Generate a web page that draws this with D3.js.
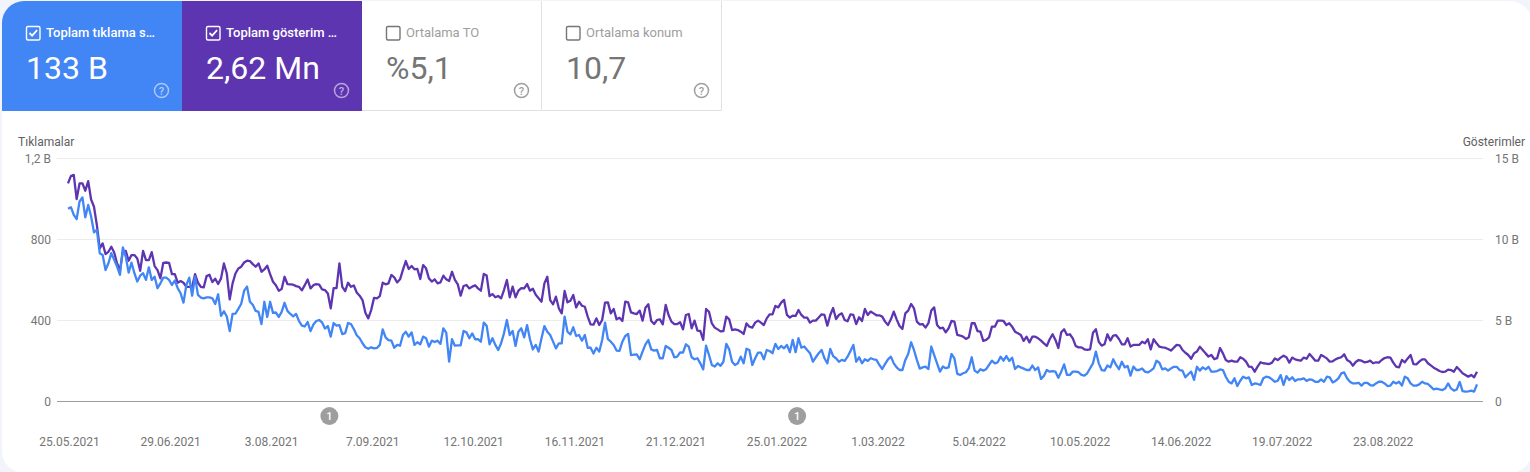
<!DOCTYPE html>
<html>
<head>
<meta charset="utf-8">
<script src="https://cdn.jsdelivr.net/npm/d3@7"></script>
<style>
html,body{margin:0;padding:0;background:#f1f4fb;overflow:hidden;}
text{font-family:Roboto,sans-serif;}
</style>
</head>
<body>
<script>
// summary tiles
const tileTitles=["Toplam tıklama s…","Toplam gösterim …","Ortalama TO","Ortalama konum"];
const tileValues=["133 B","2,62 Mn","%5,1","10,7"];
const tileChecked=[true,true,false,false];
const tileFills=["#4285f4","#5e35b1","#fff","#fff"];

const startDate="2021-05-25";
const dateTicks=["2021-05-25","2021-06-29","2021-08-03","2021-09-07","2021-10-12","2021-11-16","2021-12-21","2022-01-25","2022-03-01","2022-04-05","2022-05-10","2022-06-14","2022-07-19","2022-08-23"];
const noteDates=["2021-08-23","2022-02-01"];
const clickTicks=[0,400,800,1200];
const clickTickLabels=["0","400","800","1,2 B"];
const imprTicks=[0,5,10,15];
const imprTickLabels=["0","5 B","10 B","15 B"];

// daily clicks
const clicks=[
949,957,919,898,985,1005,907,968,911,833,845,730,721,647,680,730,697,664,623,759,
713,634,683,631,590,619,631,598,660,598,614,557,581,609,609,598,573,595,557,532,
486,573,609,520,614,524,511,507,512,512,507,479,527,
420,443,417,345,430,432,455,480,545,565,490,475,445,440,380,490,415,490,435,437,
415,440,485,445,430,418,430,395,372,368,390,345,378,395,400,388,358,370,318,385,
372,375,330,335,385,380,355,325,310,285,265,258,265,260,262,
277,354,314,301,298,263,277,273,326,342,318,339,277,290,280,318,310,268,298,291,
298,282,359,338,194,305,273,275,275,346,339,310,334,305,305,293,387,372,280,310,
277,252,285,334,400,326,346,272,342,359,314,375,305,255,277,244,310,370,342,326,
293,260,285,285,417,342,329,364,321,326,298,326,263,263,234,263,244,301,387,305,
293,277,249,247,293,321,331,227,229,230,206,244,280,301,255,249,252,211,211,272,
263,252,216,219,240,239,280,268,216,206,211,186,156,273,227,178,170,186,174,194,
282,255,194,178,186,219,186,258,252,178,211,239,
239,206,252,247,236,282,257,272,260,277,241,302,241,310,264,269,252,236,194,216,
236,252,211,186,257,222,211,194,203,198,219,247,277,194,216,186,206,198,211,206,
203,178,158,183,206,219,186,166,153,153,203,232,290,252,203,160,166,170,158,269,
227,186,145,170,162,166,232,211,134,129,137,142,162,216,150,140,157,150,157,178,
199,186,191,219,199,222,198,214,158,173,166,160,153,153,175,153,166,109,124,153,
145,148,145,115,145,181,129,129,145,145,142,129,125,137,162,186,244,186,153,150,
175,166,206,178,157,194,166,173,125,170,153,153,
161,145,141,150,161,199,189,156,161,150,161,169,169,153,150,117,132,145,104,169,
150,166,156,169,145,145,148,156,153,120,95,87,112,74,100,120,112,117,79,87,
84,79,112,120,117,107,95,100,128,79,123,104,117,99,107,107,112,99,107,104,
95,94,107,95,120,117,92,99,112,136,141,112,95,87,87,90,76,90,90,79,
76,87,95,95,87,74,76,95,87,95,76,120,112,87,76,76,82,95,87,84,
71,57,61,57,54,62,87,62,51,57,94,49,46,48,51,46,82];

// daily impressions, in B
const impressions=[
13.43,13.88,13.96,12.46,13.43,13.43,12.98,13.57,12.44,11.99,10.86,9.42,9.73,9.07,9.21,9.52,9.17,8.49,8.08,9.21,
9.27,8.66,9.01,9.01,8.80,8.04,9.27,8.70,8.70,9.19,8.33,8.08,7.57,8.53,8.55,8.53,7.83,7.83,7.30,7.40,
7.30,7.05,7.05,7.05,7.83,7.30,7.05,7.01,7.71,7.79,7.34,7.55,7.22,7.57,8.49,7.87,6.27,7.26,7.87,8.18,
8.29,8.55,8.66,8.64,8.45,8.29,8.49,7.98,8.12,8.35,7.83,7.36,7.15,6.81,6.91,7.67,7.22,7.20,7.18,7.09,
7.05,6.83,7.15,7.50,6.95,7.15,7.22,7.18,6.89,6.85,6.64,5.72,6.97,6.97,8.49,7.05,6.78,7.30,7.05,7.13,
6.70,6.50,6.23,5.45,5.10,5.61,6.37,6.33,
6.48,7.30,7.20,7.26,7.78,7.63,7.32,7.51,8.09,8.64,8.15,8.33,8.13,8.15,7.53,8.39,8.19,7.57,7.37,7.51,
7.26,7.32,7.74,7.51,7.41,7.98,7.47,7.20,6.50,7.10,7.16,6.95,7.06,7.14,6.95,6.81,7.84,7.74,6.48,6.60,
6.40,6.48,6.34,6.85,7.47,6.40,7.06,6.40,6.81,6.97,6.95,7.22,6.81,6.93,6.56,6.34,6.13,7.26,7.67,6.23,
5.97,6.44,5.72,5.41,6.79,6.09,6.19,6.54,5.78,6.13,5.88,5.82,5.21,4.73,4.71,5.10,4.69,5.00,6.07,6.09,
5.41,5.68,5.04,5.14,4.94,6.13,6.09,5.47,5.41,5.37,5.58,4.96,5.76,5.97,4.94,4.75,5.00,5.04,4.73,5.93,
5.31,4.90,4.75,4.75,4.86,4.42,5.31,5.37,4.49,4.96,4.34,4.32,3.77,5.68,5.51,4.79,4.53,4.42,4.30,4.32,
5.21,5.04,4.38,4.42,4.38,4.28,4.14,4.79,4.59,4.53,4.84,4.96,
4.84,4.69,5.10,5.35,5.35,5.87,5.78,6.07,6.24,5.31,5.15,5.27,5.25,5.62,5.31,5.15,5.15,4.84,4.96,4.96,
5.15,5.35,5.31,4.65,5.31,5.74,5.06,5.31,5.41,5.00,4.92,5.35,5.31,4.75,5.17,4.94,5.68,5.31,5.52,5.41,
5.29,5.29,5.21,4.90,4.69,5.04,5.52,5.04,4.63,4.45,5.41,5.58,5.99,5.72,4.90,4.73,4.75,4.53,4.80,5.58,
5.78,4.69,4.49,4.53,4.24,4.49,4.94,4.90,4.08,4.04,3.97,3.83,3.93,4.80,4.80,4.32,4.28,3.71,3.77,3.93,
4.59,4.59,4.96,4.96,4.94,4.69,4.80,4.59,4.28,4.18,4.08,3.71,3.97,3.62,3.97,3.97,3.87,3.73,3.56,3.40,
3.81,4.12,3.77,3.27,4.24,4.43,4.08,4.12,3.87,3.40,3.31,3.31,3.19,3.15,3.19,4.22,4.43,3.66,3.42,3.50,
4.12,3.73,4.04,4.06,3.83,3.50,3.50,3.87,3.36,3.46,3.46,
3.46,3.66,3.56,3.81,3.19,3.81,3.56,3.35,3.31,3.29,3.21,3.11,3.29,3.46,3.44,3.15,2.98,2.84,2.61,2.94,
3.05,3.35,3.15,2.94,2.74,2.84,2.59,2.65,3.27,2.94,2.53,2.43,2.49,2.43,2.43,2.70,2.61,2.43,2.12,2.10,
1.81,2.12,2.39,2.33,2.31,2.28,2.37,2.63,2.53,2.68,2.80,2.70,2.37,2.68,2.57,2.53,2.49,2.68,2.61,2.90,
2.70,2.49,2.49,2.84,2.74,2.63,2.43,2.45,2.57,2.65,2.70,2.88,2.53,2.43,2.18,2.41,2.53,2.49,2.39,2.41,
2.49,2.33,2.39,2.37,2.53,2.65,2.70,2.68,2.37,2.12,2.08,2.53,2.39,2.63,2.84,2.28,2.26,2.43,2.57,2.57,
2.33,2.20,2.06,1.96,1.85,1.79,1.81,1.94,1.91,1.81,2.10,1.91,1.71,1.61,1.50,1.61,1.46,1.81];

const w=1530,h=472;
const svg=d3.select("body").append("svg")
  .attr("width",w).attr("height",h)
  .style("display","block");

const parse=d3.utcParse("%Y-%m-%d");
const fmt=d3.utcFormat("%-d.%m.%Y");
const start=parse(startDate);
const day=i=>d3.utcDay.offset(start,i);

// white card
const cardW=1530,cardH=472,cardR=22;
svg.append("rect").attr("x",2).attr("y",1).attr("width",cardW).attr("height",cardH)
  .attr("rx",cardR).attr("fill","#fff");
svg.append("clipPath").attr("id","cardClip").append("rect")
  .attr("x",2).attr("y",1).attr("width",cardW).attr("height",cardH).attr("rx",cardR);

// tiles
const tileW=180,tileH=110;
const tile=svg.append("g").attr("clip-path","url(#cardClip)")
  .selectAll("g").data(tileTitles).join("g")
  .attr("transform",(d,i)=>`translate(${2+i*tileW},1)`);
tile.append("rect").attr("width",tileW).attr("height",tileH)
  .attr("fill",(d,i)=>tileFills[i]);
tile.filter((d,i)=>i>1).append("path")
  .attr("d",`M${tileW-.5},0V${tileH-.5}H0`)
  .attr("fill","none").attr("stroke","#e0e0e0");
const fg=i=>tileChecked[i]?"#fff":"#757575";
tile.append("rect").attr("x",24.5).attr("y",25.5).attr("width",13.5).attr("height",13.5).attr("rx",1.5)
  .attr("fill","none").attr("stroke",(d,i)=>fg(i)).attr("stroke-width",1.4);
tile.filter((d,i)=>tileChecked[i]).append("path")
  .attr("d","M27.5,32l2.6,2.6l5,-5.4").attr("fill","none").attr("stroke","#fff").attr("stroke-width",1.8);
tile.append("text").attr("x",44).attr("y",36).text(d=>d)
  .attr("font-size",13).attr("font-weight",(d,i)=>tileChecked[i]?500:400)
  .attr("fill",(d,i)=>tileChecked[i]?"#fff":"#9e9e9e");
tile.append("text").attr("x",24).attr("y",78).text((d,i)=>tileValues[i])
  .attr("font-size",32).attr("fill",(d,i)=>fg(i));
tile.append("circle").attr("cx",159.5).attr("cy",89.5).attr("r",7)
  .attr("fill","none").attr("stroke",(d,i)=>tileChecked[i]?"rgba(255,255,255,.55)":"#9e9e9e").attr("stroke-width",1.5);
tile.append("text").attr("x",159.5).attr("y",93.5).attr("text-anchor","middle").text("?")
  .attr("font-size",11).attr("font-weight",500).attr("fill",(d,i)=>tileChecked[i]?"rgba(255,255,255,.6)":"#9e9e9e");

// scales
const x=d3.scaleUtc().domain([start,day(clicks.length-1)]).range([68,1477]);
const yClicks=d3.scaleLinear().domain([0,1200]).range([401,158]);
const yImpr=d3.scaleLinear().domain([0,15]).range([401,158]);

// grid
svg.append("g").selectAll("line").data(clickTicks).join("line")
  .attr("x1",57).attr("x2",1483)
  .attr("y1",d=>yClicks(d)+.5).attr("y2",d=>yClicks(d)+.5)
  .attr("stroke",d=>d==0?"#9e9e9e":"#ececec");

// axes
function styleAxis(g){
  g.select(".domain").remove();
  g.selectAll(".tick line").remove();
  g.selectAll("text").attr("fill","#757575").attr("font-size",12).attr("font-family","Roboto,sans-serif");
}
svg.append("g").attr("transform","translate(57,1)")
  .call(d3.axisLeft(yClicks).tickValues(clickTicks).tickSize(0).tickPadding(6)
    .tickFormat((d,i)=>clickTickLabels[i])).call(styleAxis);
svg.append("g").attr("transform","translate(1489,1)")
  .call(d3.axisRight(yImpr).tickValues(imprTicks).tickSize(0).tickPadding(6)
    .tickFormat((d,i)=>imprTickLabels[i])).call(styleAxis);
svg.append("g").attr("transform","translate(1,431)")
  .call(d3.axisBottom(x).tickValues(dateTicks.map(parse)).tickSize(0).tickPadding(6)
    .tickFormat(fmt)).call(styleAxis);

svg.append("text").attr("x",18).attr("y",146).text("Tıklamalar")
  .attr("font-size",12).attr("fill","#616161");
svg.append("text").attr("x",1525).attr("y",146).attr("text-anchor","end").text("Gösterimler")
  .attr("font-size",12).attr("fill","#616161");

// lines
const lineI=d3.line().x((d,i)=>x(day(i))).y(d=>yImpr(d));
const lineC=d3.line().x((d,i)=>x(day(i))).y(d=>yClicks(d));
svg.append("path").datum(impressions).attr("d",lineI)
  .attr("fill","none").attr("stroke","#5e35b1").attr("stroke-width",2.3).attr("stroke-linejoin","round");
svg.append("path").datum(clicks).attr("d",lineC)
  .attr("fill","none").attr("stroke","#4285f4").attr("stroke-width",2.3).attr("stroke-linejoin","round");

// annotation markers
const note=svg.append("g").selectAll("g").data(noteDates.map(parse)).join("g")
  .attr("transform",d=>`translate(${x(d)+1.5},416)`);
note.append("circle").attr("r",9).attr("fill","#9e9e9e");
note.append("text").attr("y",4).attr("text-anchor","middle").text("1")
  .attr("font-size",11).attr("font-weight",500).attr("fill","#fff");
</script>
</body>
</html>
